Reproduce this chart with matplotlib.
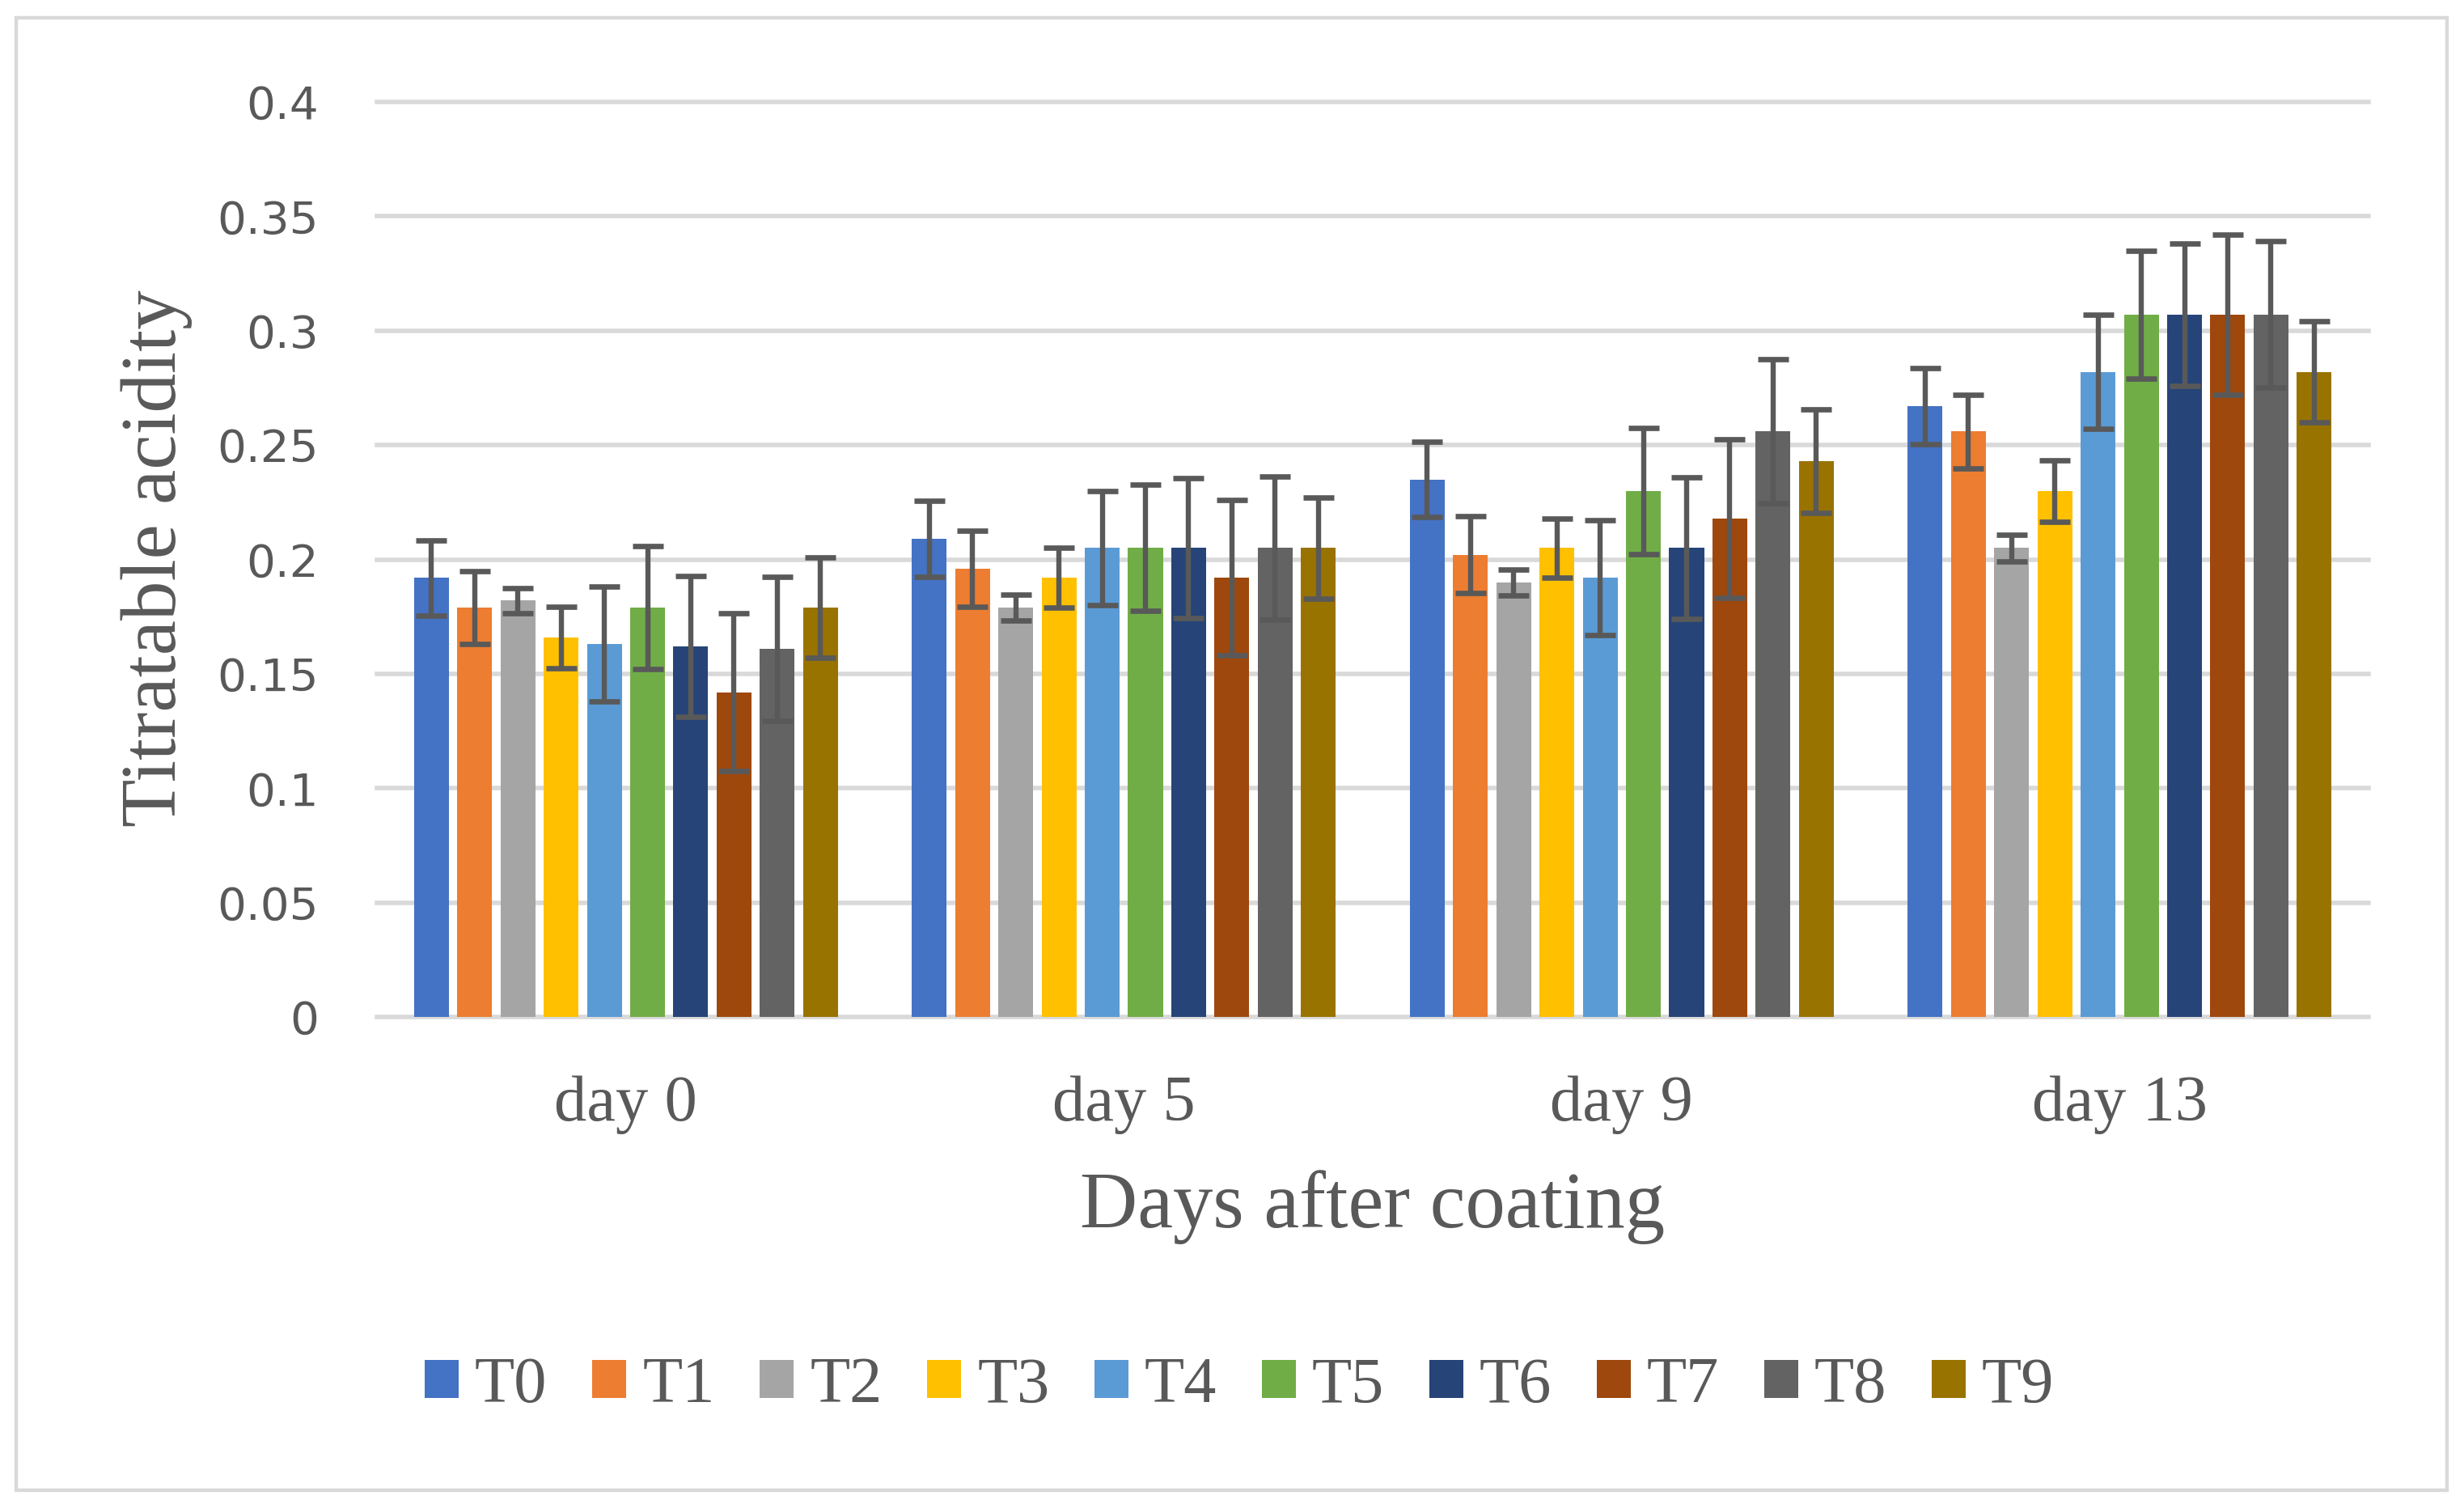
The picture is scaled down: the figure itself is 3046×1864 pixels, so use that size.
"""
    Titratable acidity of coated samples over storage days,
    grouped bars with error bars for treatments T0..T9.
"""
import numpy as np
import matplotlib.pyplot as plt
from matplotlib.patches import Rectangle

days = ["day 0", "day 5", "day 9", "day 13"]
treatments = ["T0", "T1", "T2", "T3", "T4", "T5", "T6", "T7", "T8", "T9"]
colors = ["#4472C4", "#ED7D31", "#A5A5A5", "#FFC000", "#5B9BD5",
          "#70AD47", "#264478", "#9E480E", "#636363", "#997300"]

# mean values, one list per treatment (day 0, 5, 9, 13)
t0 = [0.192, 0.209, 0.235, 0.267]
t1 = [0.179, 0.196, 0.202, 0.256]
t2 = [0.182, 0.179, 0.190, 0.205]
t3 = [0.166, 0.192, 0.205, 0.230]
t4 = [0.163, 0.205, 0.192, 0.282]
t5 = [0.179, 0.205, 0.230, 0.307]
t6 = [0.162, 0.205, 0.205, 0.307]
t7 = [0.142, 0.192, 0.218, 0.307]
t8 = [0.161, 0.205, 0.256, 0.307]
t9 = [0.179, 0.205, 0.243, 0.282]

# error (+/-) per treatment
e0 = [0.0165, 0.0165, 0.0165, 0.0167]
e1 = [0.016, 0.0166, 0.0168, 0.0161]
e2 = [0.0056, 0.0056, 0.0057, 0.0058]
e3 = [0.0135, 0.013, 0.013, 0.0135]
e4 = [0.025, 0.025, 0.025, 0.025]
e5 = [0.027, 0.0276, 0.0276, 0.0278]
e6 = [0.0306, 0.0306, 0.031, 0.031]
e7 = [0.0346, 0.034, 0.0347, 0.035]
e8 = [0.0314, 0.0313, 0.0315, 0.032]
e9 = [0.022, 0.022, 0.0225, 0.022]

means = [t0, t1, t2, t3, t4, t5, t6, t7, t8, t9]
errs = [e0, e1, e2, e3, e4, e5, e6, e7, e8, e9]

yticks = [0, 0.05, 0.1, 0.15, 0.2, 0.25, 0.3, 0.35, 0.4]
ylabels = ["0", "0.05", "0.1", "0.15", "0.2", "0.25", "0.3", "0.35", "0.4"]

grey_txt = "#595959"
serif = "Liberation Serif"

fig = plt.figure(figsize=(15.23, 9.32), dpi=200)
ax = fig.add_axes([0.153, 0.3256, 0.8083, 0.6068])

x = np.arange(len(days))
pitch = 0.0868
width = 0.07
for i, name in enumerate(treatments):
    pos = x + (i - 4.5) * pitch
    ax.bar(pos, means[i], width, color=colors[i], label=name, zorder=2)
    ax.errorbar(pos, means[i], yerr=errs[i], fmt="none", ecolor=grey_txt,
                elinewidth=2.3, capsize=7, capthick=2.4, zorder=3)

ax.set_xlim(-0.5, 3.5)
ax.set_ylim(0, 0.4)
ax.set_yticks(yticks)
ax.set_yticklabels(ylabels, fontsize=20.3, color=grey_txt, family="DejaVu Sans")
ax.set_xticks(x)
ax.set_xticklabels(days, fontsize=29, color=grey_txt, family=serif)
ax.tick_params(axis="both", length=0)
ax.tick_params(axis="y", pad=26)
ax.tick_params(axis="x", pad=26)
ax.grid(axis="y", color="#D9D9D9", linewidth=2.0, zorder=0)
ax.set_axisbelow(True)
for line in ax.get_ygridlines():
    line.set_clip_on(False)
for s in ax.spines.values():
    s.set_visible(False)

fig.text(0.0637, 0.63, "Titratable acidity", rotation=90, ha="center",
         va="center", fontsize=35, color=grey_txt, family=serif)
fig.text(0.557, 0.1996, "Days after coating", ha="center", va="center",
         fontsize=35.5, color=grey_txt, family=serif)

leg = fig.legend(loc="center", bbox_to_anchor=(0.503, 0.0805), ncol=10,
                 frameon=False, fontsize=29, handlelength=0.52,
                 handleheight=0.52, handletextpad=0.25, columnspacing=0.69)
for t in leg.get_texts():
    t.set_color(grey_txt)
    t.set_family(serif)

# outer chart border
fig.patches.append(Rectangle((0.0066, 0.0118), 0.9865, 0.9765,
                             transform=fig.transFigure, fill=False,
                             edgecolor="#D9D9D9", linewidth=1.6))

fig.savefig("out.png", dpi=200, facecolor="white")
